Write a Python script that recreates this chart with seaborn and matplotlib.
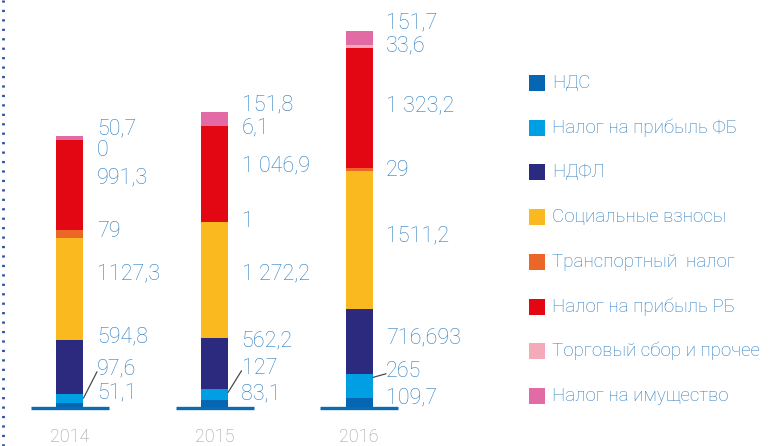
import numpy as np
import pandas as pd
import matplotlib
matplotlib.use("Agg")
import matplotlib.pyplot as plt
from matplotlib.patches import Rectangle
from matplotlib.lines import Line2D
import seaborn as sns

years = ["2014", "2015", "2016"]
categories = ["НДС", "Налог на прибыль ФБ", "НДФЛ", "Социальные взносы",
              "Транспортный  налог", "Налог на прибыль РБ",
              "Торговый сбор и прочее", "Налог на имущество"]
nds = [51.1, 83.1, 109.7]
profit_fb = [97.6, 127.0, 265.0]
ndfl = [594.8, 562.2, 716.693]
social = [1127.3, 1272.2, 1511.2]
transport = [79.0, 1.0, 29.0]
profit_rb = [991.3, 1046.9, 1323.2]
trade = [0.0, 6.1, 33.6]
property_tax = [50.7, 151.8, 151.7]

labels_2014 = ["51,1", "97,6", "594,8", "1127,3", "79", "991,3", "0", "50,7"]
labels_2015 = ["83,1", "127", "562,2", "1 272,2", "1", "1 046,9", "6,1", "151,8"]
labels_2016 = ["109,7", "265", "716,693", "1511,2", "29", "1 323,2", "33,6", "151,7"]

# where the value labels sit (data units), bottom to top
label_y_2014 = [165, 428, 780, 1472, 1933, 2526, 2833, 3064]
label_y_2015 = [154, 439, 736, 1472, 2043, 2658, 3075, 3327]
label_y_2016 = [110, 406, 769, 1889, 2603, 3316, 3975, 4228]

colors = ["#0567b1", "#009fe3", "#2b2a7e", "#fbb920", "#ec6627",
          "#e30613", "#f4aab9", "#e26ba5"]
text_color = "#2a7cc0"

series = [nds, profit_fb, ndfl, social, transport, profit_rb, trade, property_tax]
labels = [labels_2014, labels_2015, labels_2016]
label_y = [label_y_2014, label_y_2015, label_y_2016]

sns.set_style("white")
plt.rcParams["font.family"] = ["Roboto", "DejaVu Sans"]

W, H = 782, 446
fig = plt.figure(figsize=(W / 100, H / 100), dpi=100)
ax = fig.add_axes([0, 0, 1, 1])

px_per_cat = 144.5
px_per_val = 377 / 4140.1
x0_px, base_px = 70, 408

bottom = np.zeros(len(years))
for vals, c in zip(series, colors):
    df = pd.DataFrame({"year": years, "value": vals})
    sns.barplot(data=df, x="year", y="value", bottom=bottom, color=c,
                width=27 / px_per_cat, saturation=1, ax=ax, linewidth=0)
    bottom = bottom + np.array(vals)

ax.set_xlim(-x0_px / px_per_cat, (W - x0_px) / px_per_cat)
ax.set_ylim(-(H - base_px) / px_per_val, base_px / px_per_val)
ax.axis("off")

half = 39 / px_per_cat
dx = 27 / px_per_cat
for i, yr in enumerate(years):
    ax.hlines(0, i - half, i + half, color="#0a6bb5", lw=2.4, zorder=3)
    ax.text(i, -(437 - base_px) / px_per_val, yr, ha="center", va="center",
            color="#9a9a9a", fontsize=13, fontweight="light")
    for lab, ly in zip(labels[i], label_y[i]):
        ax.text(i + dx, ly, lab, ha="left", va="center", color=text_color,
                fontsize=15.5, fontweight="light")
    # leader line from the profit (FB) segment to its label
    fb_top = nds[i] + profit_fb[i]
    ax.plot([i + 13.5 / px_per_cat, i + dx], [fb_top - 40, label_y[i][1] - 30],
            color="#4a4a4a", lw=0.9, zorder=4)

# legend
leg_x, leg_y0, leg_step = 529, 83, 44.7
for k, (name, c) in enumerate(zip(categories, colors)):
    yc = leg_y0 + k * leg_step
    fig.add_artist(Rectangle((leg_x / W, 1 - (yc + 8) / H), 16 / W, 16 / H,
                             transform=fig.transFigure, color=c, lw=0))
    fig.text(552 / W, 1 - yc / H, name, ha="left", va="center",
             color=text_color, fontsize=13.5, fontweight="light")

# dotted rule on the left
fig.add_artist(Line2D([3 / W, 3 / W], [0, 1], transform=fig.transFigure,
                      color="#2c4f9e", lw=2, linestyle=(0, (0.8, 2.6))))

fig.savefig("out.png", dpi=100)
